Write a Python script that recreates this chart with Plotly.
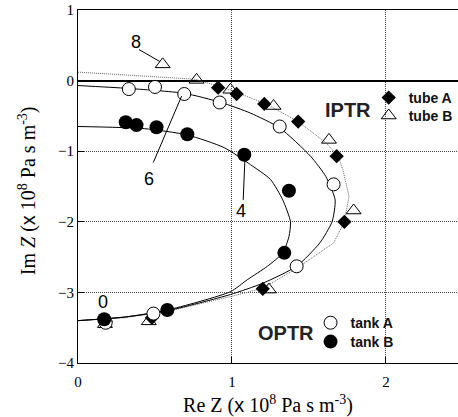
import plotly.graph_objects as go

# ---- measured data (Re Z, Im Z in 1e8 Pa s m^-3) ----
tubeA_re = [0.18, 0.48, 1.20, 1.73, 1.68, 1.43, 1.21, 1.03, 0.91]
tubeA_im = [-3.41, -3.36, -2.95, -2.00, -1.07, -0.58, -0.33, -0.19, -0.10]
tubeB_re = [0.175, 0.46, 1.24, 1.79, 1.63, 1.27, 0.99, 0.77, 0.55]
tubeB_im = [-3.45, -3.41, -2.96, -1.84, -0.84, -0.36, -0.13, 0.01, 0.23]
tankA_re = [0.18, 0.49, 1.42, 1.66, 1.31, 0.92, 0.69, 0.50, 0.33]
tankA_im = [-3.43, -3.30, -2.63, -1.47, -0.65, -0.31, -0.19, -0.09, -0.12]
tankB_re = [0.17, 0.58, 1.34, 1.37, 1.08, 0.71, 0.51, 0.38, 0.31]
tankB_im = [-3.38, -3.25, -2.44, -1.56, -1.05, -0.76, -0.66, -0.63, -0.59]

# ---- model curves ----
fitB_re = [0, 0.40, 0.76, 1.00, 1.23, 1.43, 1.61, 1.69, 1.72, 1.76, 1.73, 1.66, 1.42, 1.20, 0.99, 0.58, 0.30, 0]
fitB_im = [0.12, 0.07, 0.02, -0.14, -0.34, -0.58, -0.88, -1.07, -1.26, -1.64, -2.00, -2.30, -2.66, -2.94, -3.06, -3.27, -3.36, -3.40]
fitA_re = [0, 0.32, 0.69, 0.93, 1.12, 1.31, 1.51, 1.61, 1.67, 1.65, 1.57, 1.42, 1.20, 0.99, 0.58, 0.30, 0]
fitA_im = [-0.07, -0.11, -0.18, -0.31, -0.46, -0.67, -1.07, -1.36, -1.69, -2.00, -2.30, -2.63, -2.87, -3.03, -3.26, -3.35, -3.40]
fitTB_re = [0, 0.43, 0.71, 0.95, 1.12, 1.25, 1.33, 1.38, 1.37, 1.33, 1.23, 1.10, 0.99, 0.58, 0.30, 0]
fitTB_im = [-0.65, -0.68, -0.77, -0.95, -1.19, -1.40, -1.69, -2.00, -2.21, -2.44, -2.63, -2.82, -2.99, -3.25, -3.35, -3.40]

# frequency labels and leader lines
labels = ["8", "6", "4", "0"]
label_x = [0.377, 0.458, 1.056, 0.164]
label_y = [0.54, -1.39, -1.85, -3.13]
leader_x0 = [0.396, 0.489, 1.073]
leader_y0 = [0.44, -1.16, -1.69]
leader_x1 = [0.532, 0.673, 1.084]
leader_y1 = [0.27, -0.22, -1.12]

group_titles = ["IPTR", "OPTR"]
x_title = "Re Z (<span style='font-family:Liberation Sans'>x</span> 10<sup>8</sup> Pa s m<sup>-3</sup>)"
y_title = "Im <i>Z</i> (<span style='font-family:Liberation Sans'>x</span> 10<sup>8</sup> Pa s m<sup>-3</sup>)"

SERIF = "Liberation Serif"
SANS = "Liberation Sans"

fig = go.Figure()
fig.add_trace(go.Scatter(x=fitB_re, y=fitB_im, mode="lines", showlegend=False,
                         line=dict(color="#666", width=1, dash="1px,1px")))
fig.add_trace(go.Scatter(x=fitA_re, y=fitA_im, mode="lines", showlegend=False,
                         line=dict(color="black", width=1, shape="spline", smoothing=0.6)))
fig.add_trace(go.Scatter(x=fitTB_re, y=fitTB_im, mode="lines", showlegend=False,
                         line=dict(color="black", width=1, shape="spline", smoothing=0.6)))

fig.add_trace(go.Scatter(x=tubeA_re, y=tubeA_im, mode="markers", name="tube A", legend="legend",
                         marker=dict(symbol="diamond", size=11, color="black")))
fig.add_trace(go.Scatter(x=tubeB_re, y=tubeB_im, mode="markers", name="tube B", legend="legend2",
                         marker=dict(symbol="triangle-up-open", size=13, color="black", line=dict(width=1))))
fig.add_trace(go.Scatter(x=tankA_re, y=tankA_im, mode="markers", name="tank A", legend="legend3",
                         marker=dict(symbol="circle", size=13, color="white", line=dict(color="black", width=1))))
fig.add_trace(go.Scatter(x=tankB_re, y=tankB_im, mode="markers", name="tank B", legend="legend4",
                         marker=dict(symbol="circle", size=14, color="black")))

for i, t in enumerate(labels):
    fig.add_annotation(x=label_x[i], y=label_y[i], text=t, showarrow=False,
                       font=dict(family=SANS, size=18, color="black"))
for i in range(len(leader_x0)):
    fig.add_shape(type="line", x0=leader_x0[i], y0=leader_y0[i], x1=leader_x1[i], y1=leader_y1[i],
                  line=dict(color="black", width=1))

fig.add_annotation(xref="paper", yref="paper", x=0.7105, y=0.7167, text=group_titles[0], showarrow=False,
                   xanchor="center", yanchor="middle",
                   font=dict(family=SANS, size=20, color="#222", weight="bold"))
fig.add_annotation(xref="paper", yref="paper", x=0.547, y=0.085, text=group_titles[1], showarrow=False,
                   xanchor="center", yanchor="middle",
                   font=dict(family=SANS, size=20, color="#222", weight="bold"))
# y-axis title
fig.add_annotation(xref="paper", yref="paper", x=-0.134, y=0.487, text=y_title, showarrow=False,
                   textangle=-90, xanchor="center", yanchor="middle",
                   font=dict(family=SERIF, size=20, color="black"))

def leg(x, y):
    return dict(x=x, y=y, xanchor="left", yanchor="middle",
                font=dict(family=SANS, size=14, color="#111", weight="bold"),
                bgcolor="rgba(0,0,0,0)", borderwidth=0)

fig.update_layout(
    width=458, height=417,
    margin=dict(l=78, r=0, t=10, b=54, autoexpand=False),
    plot_bgcolor="white", paper_bgcolor="white",
    legend=leg(0.765, 0.7507),
    legend2=leg(0.765, 0.700),
    legend3=leg(0.612, 0.113),
    legend4=leg(0.612, 0.0595),
    xaxis=dict(range=[0, 2.468], tickvals=[0, 1, 2], ticktext=["0", "1", "2"],
               showline=True, linecolor="black", linewidth=1, mirror=True,
               ticks="inside", ticklen=6, tickcolor="black", ticklabelstandoff=5,
               showgrid=True, gridcolor="#444", griddash="1px,1px", gridwidth=1,
               zeroline=False, automargin=False,
               tickfont=dict(family=SERIF, size=15, color="black"),
               title=dict(text=x_title, font=dict(family=SERIF, size=20, color="black"))),
    yaxis=dict(range=[-4, 1], tickvals=[-4, -3, -2, -1, 0, 1],
               showline=True, linecolor="black", linewidth=1, mirror=False,
               ticks="inside", ticklen=6, tickcolor="black",
               showgrid=True, gridcolor="#444", griddash="1px,1px", gridwidth=1,
               zeroline=True, zerolinecolor="black", zerolinewidth=1.5, automargin=False,
               tickfont=dict(family=SERIF, size=15, color="black")),
)
fig.write_html("out.html", config={"displayModeBar": False},
               post_script="document.body.style.margin='0px';")
